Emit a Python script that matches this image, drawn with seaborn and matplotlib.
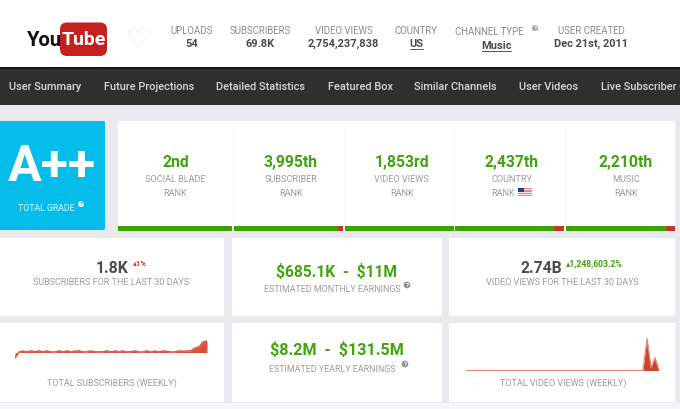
import matplotlib
matplotlib.use('Agg')
import matplotlib.pyplot as plt
import pandas as pd
import seaborn as sns
from matplotlib.patches import Rectangle, FancyBboxPatch, Circle

# Header stats
header_labels = ['UPLOADS', 'SUBSCRIBERS', 'VIDEO VIEWS', 'COUNTRY', 'CHANNEL TYPE', 'USER CREATED']
header_values = ['54', '69.8K', '2,754,237,838', 'US', 'Music', 'Dec 21st, 2011']
nav_items = ['User Summary', 'Future Projections', 'Detailed Statistics', 'Featured Box',
             'Similar Channels', 'User Videos', 'Live Subscriber Count']

# Rank cells
rank_values = ['2nd', '3,995th', '1,853rd', '2,437th', '2,210th']
rank_labels = ['SOCIAL BLADE', 'SUBSCRIBER', 'VIDEO VIEWS', 'COUNTRY', 'MUSIC']
rank_green_share = [1.0, 0.95, 1.0, 0.91, 0.92]

# Weekly sparklines
subs_weekly = [2, 8, 8.9, 8.2, 9.1, 8.2, 9.1, 8.1, 9, 8.1, 8, 9, 8.1, 9.1, 8, 8.9,
               9.1, 8.1, 8.1, 9.1, 8, 8.2, 8.2, 9.1, 8, 9, 8.1, 9, 8, 8.4, 9.1, 8,
               8.1, 9, 8, 8.9, 8.1, 9, 8.6, 8, 8.1, 9, 8.8, 9, 9.2, 12, 13, 18, 19]
views_weekly = [0, 0, 0, 0, 0, 0, 0, 0, 0, 0, 0, 0, 0, 0, 0, 0, 0, 0, 0, 0, 0, 0, 0, 0, 0,
                0, 0, 0, 0, 0, 0, 0, 0, 0, 0, 0, 0, 0, 0, 0, 0, 0, 0, 0, 0, 32, 3, 13, 0]

sns.set_theme(style='white')
plt.rcParams['font.family'] = ['Roboto', 'DejaVu Sans']
plt.rcParams['text.parse_math'] = False

BG = '#e9e9ee'
GREEN = '#3fa50a'
BAR_GREEN = '#39a300'
RED = '#c4352a'
LABEL = '#9c9c9e'
DARK = '#4c4c4e'

fig = plt.figure(figsize=(6.8, 4.09), dpi=100, facecolor='white')
ax = fig.add_axes([0, 0, 1, 1])
ax.set_xlim(0, 680)
ax.set_ylim(409, 0)
ax.axis('off')


def box(x0, y0, x1, y1, color, z=1):
    ax.add_patch(Rectangle((x0, y0), x1 - x0, y1 - y0, facecolor=color, edgecolor='none', zorder=z))


def label(x, y, s, size=6.6, color=LABEL, weight='normal', ha='center', **kw):
    # va center sits a bit high for this font
    return ax.text(x, y + 1.2, s, fontsize=size, color=color, fontweight=weight, ha=ha, va='center', zorder=5, **kw)


def help_icon(x, y, r=3.3, color='#8e8e90', fg='white'):
    ax.add_patch(Circle((x, y), r, facecolor=color, edgecolor='none', zorder=5))
    ax.text(x, y + 0.2, '?', fontsize=4.6, color=fg, fontweight='bold', ha='center', va='center', zorder=6)


# Background blocks
box(0, 105, 680, 403, BG)
box(0, 403, 680, 409, '#f6f6f8')
box(0, 67.5, 680, 105, '#2f2f2f')
box(0, 67, 680, 68.5, '#161616', z=2)

# Logo
label(26.5, 39, 'You', size=14.5, color='#111111', weight='bold', ha='left')
ax.add_patch(FancyBboxPatch((60, 22.5), 47, 33.5, boxstyle='round,pad=0,rounding_size=7',
                            facecolor='#c5201f', edgecolor='none', zorder=3))
label(83.5, 39, 'Tube', size=14, color='white', weight='bold')
ax.text(137.5, 40, '\u2661', fontsize=20, color='#efefef', ha='center', va='center', family='DejaVu Sans', zorder=5)

# Header stats
header_x = [192, 260.5, 343.5, 416, 489, 591]
value_x = [192, 260.5, 343.5, 416, 496, 591]
for i in range(len(header_labels)):
    ly = 31 if header_labels[i] == 'CHANNEL TYPE' else 29.5
    vy = 45 if header_labels[i] == 'CHANNEL TYPE' else 43
    label(header_x[i], ly, header_labels[i], size=6.9, color='#8b8b8d')
    label(value_x[i], vy, header_values[i], size=7.9, color='#4a4a4c', weight='bold')
ax.plot([409.5, 423], [49, 49], color='#555555', lw=0.7, zorder=5)
ax.plot([481.5, 511], [51, 51], color='#555555', lw=0.7, zorder=5)
help_icon(535, 28, r=3, color='#a0a0a2')

# Nav bar
nav_x = [9, 104, 216, 328, 414, 519, 601]
for i in range(len(nav_items)):
    label(nav_x[i], 86, nav_items[i], size=7.95, color='#d8d8d8', weight='medium', ha='left', clip_on=True)

# Grade block
ax.add_patch(FancyBboxPatch((-4, 121), 109, 109, boxstyle='round,pad=0,rounding_size=1.5',
                            facecolor='#05bdea', edgecolor='none', zorder=2))
label(52, 166, 'A++', size=36, color='white', weight='bold')
label(46, 207, 'TOTAL GRADE', size=6.3, color='#e2f6fc')
help_icon(81, 204, r=3, color='white', fg='#05bdea')

# Rank cells
box(118, 121, 675, 231, 'white')
rank_x = [175.5, 291, 401.7, 511.7, 626]
bar_x0 = [118, 234, 345, 455, 566]
bar_x1 = [232, 343, 454, 564, 675]
for i in range(len(rank_values)):
    label(rank_x[i], 161.5, rank_values[i], size=11.3, color=GREEN, weight='bold')
    label(rank_x[i], 178, rank_labels[i], size=6.6)
    if rank_labels[i] == 'COUNTRY':
        label(503, 192, 'RANK', size=6.6)
    else:
        label(rank_x[i], 192, 'RANK', size=6.6)
    split = bar_x0[i] + (bar_x1[i] - bar_x0[i]) * rank_green_share[i]
    box(bar_x0[i], 225.5, split, 230.5, BAR_GREEN, z=3)
    box(split, 225.5, bar_x1[i], 230.5, RED, z=3)
    if i > 0:
        ax.plot([bar_x0[i] - 1, bar_x0[i] - 1], [128, 225], color='#f3f3f5', lw=0.7, zorder=2)

# Flag
box(517.5, 188, 532, 196, '#e9888a', z=5)
for sy in [189.2, 191.6, 194]:
    box(517.5, sy, 532, sy + 1.1, '#f6e6e6', z=5)
box(517.5, 188, 524, 192.3, '#2f3f86', z=6)

# Stat panels
box(0, 238, 224, 316, 'white')
box(232, 238, 442, 316, 'white')
box(449, 238, 675, 316, 'white')
box(0, 323, 224, 402, 'white')
box(232, 323, 442, 402, 'white')
box(449, 323, 675, 402, 'white')

label(112, 267, '1.8K', size=11.3, color=DARK, weight='bold')
label(133, 262.5, '\u25b41%', size=5.6, color='#d9352c', weight='bold', ha='left')
label(111, 281, 'SUBSCRIBERS FOR THE LAST 30 DAYS', size=6.5)
label(337, 271, '$685.1K  -  $11M', size=11.2, color=GREEN, weight='bold')
label(332, 288, 'ESTIMATED MONTHLY EARNINGS', size=6.4)
help_icon(407, 285)
label(541.7, 267, '2.74B', size=11.3, color=DARK, weight='bold')
label(566, 262.5, '\u25b41,248,603.2%', size=6.2, color=GREEN, weight='bold', ha='left')
label(562, 281, 'VIDEO VIEWS FOR THE LAST 30 DAYS', size=6.5)
label(337, 349, '$8.2M  -  $131.5M', size=11.6, color=GREEN, weight='bold')
label(332, 368, 'ESTIMATED YEARLY EARNINGS', size=6.4)
help_icon(405, 364)
label(112, 382, 'TOTAL SUBSCRIBERS (WEEKLY)', size=6.5)
label(563, 382, 'TOTAL VIDEO VIEWS (WEEKLY)', size=6.5)


# Sparklines sit in their own axes, 1 unit is about 1 px
def spark(px_left, px_right, px_top, px_bottom, values, base, line_color, fill_color, lw):
    sax = fig.add_axes([px_left / 680, 1 - px_bottom / 409, (px_right - px_left) / 680, (px_bottom - px_top) / 409])
    df = pd.DataFrame({'week': range(len(values)), 'value': values})
    sax.fill_between(df['week'], df['value'], base, color=fill_color, linewidth=0)
    sns.lineplot(data=df, x='week', y='value', color=line_color, linewidth=lw, ax=sax)
    sax.set_xlim(0, len(values) - 1)
    sax.set_ylim(0, px_bottom - px_top)
    sax.axis('off')


spark(15, 207, 335, 360, subs_weekly, 7.5, '#dc5a42', '#d9513a', 1.1)
spark(466, 659, 335, 370.5, views_weekly, 0, '#e58a75', '#c9452f', 0.8)

plt.savefig('out.png', dpi=100)
